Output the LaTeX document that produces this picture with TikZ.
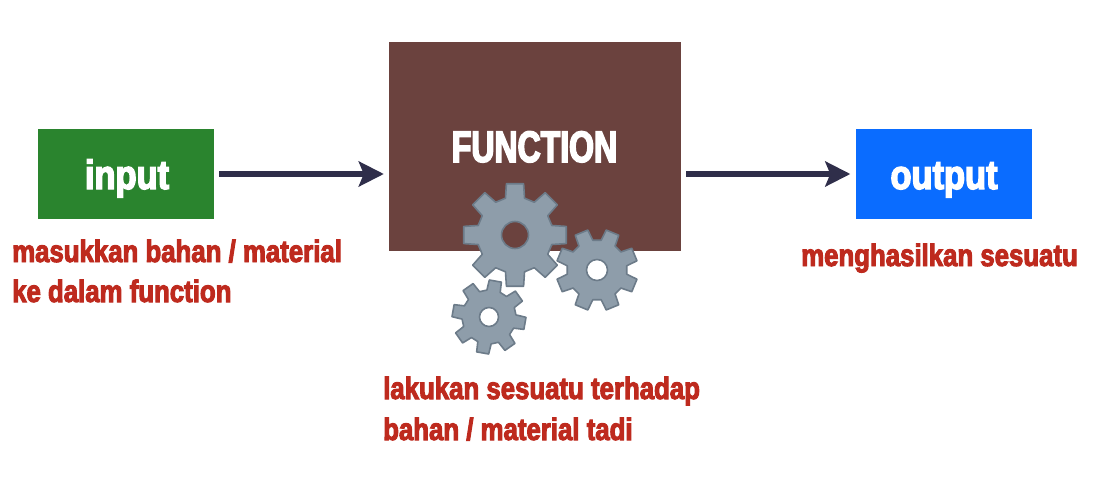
\documentclass[tikz,border=0pt]{standalone}
\usepackage{fontspec}
\setmainfont{Liberation Sans}[BoldFont={Liberation Sans Bold}]
\newfontfamily\notefont{Liberation Sans Bold}[FakeStretch=0.832,FakeBold=3.2]
\newfontfamily\condfont{Liberation Sans Bold}[FakeStretch=0.84,FakeBold=3.5]
\newfontfamily\capfont{Liberation Sans Bold}[FakeStretch=0.727,FakeBold=3.5]
\usetikzlibrary{arrows.meta}
\definecolor{boxgreen}{HTML}{2A842E}
\definecolor{boxbrown}{HTML}{6B423E}
\definecolor{boxblue}{HTML}{0A6CFF}
\definecolor{arrowink}{HTML}{2F2E4A}
\definecolor{notered}{HTML}{BE2A1E}
\definecolor{gearfill}{HTML}{8E9DAA}
\definecolor{gearline}{HTML}{6C7B89}
\tikzset{
  blockbox/.style={draw=none,minimum width=#1,inner sep=0pt},
  blocklabel/.style={text=white,inner sep=0pt,anchor=base},
  flowarrow/.style={draw=arrowink,line width=6pt,-{Stealth[length=25pt,width=25pt,inset=5pt]}},
  notetext/.style={text=notered,inner sep=0pt,anchor=base west,font=\notefont\fontsize{31}{41}\selectfont},
  gearbody/.style={draw=gearline,line width=1.6pt,fill=gearfill,line join=round},
}
% cx cy outer root hole rotation
\newcommand{\gearshape}[6]{%
  \begin{scope}[shift={(#1,#2)}]
    \path[gearbody]
      (#6-14.5:#4)
      \foreach \k in {0,...,7}{
        -- ({#6+\k*45-9.5}:#3) -- ({#6+\k*45+9.5}:#3)
        -- ({#6+\k*45+14.5}:#4) -- ({#6+\k*45+30.5}:#4)
      } -- cycle;
  \end{scope}}
\begin{document}
\begin{tikzpicture}[x=1pt,y=-1pt]
\useasboundingbox (0,0) rectangle (1100,492);
\fill[white] (0,0) rectangle (1100,492);

\node[blockbox=176pt,fill=boxgreen,minimum height=90pt] (input) at (126,174) {};
\node[blocklabel] (inputlabel) at (127,189) {\condfont\fontsize{41}{44}\selectfont input};
\node[blockbox=292pt,fill=boxbrown,minimum height=209pt] (function) at (535,146.5) {};
\node[blocklabel] (functionlabel) at (534.5,162) {\capfont\fontsize{44}{46}\selectfont FUNCTION};
\node[blockbox=176pt,fill=boxblue,minimum height=90pt] (output) at (943.5,174) {};
\node[blocklabel] (outputlabel) at (944,189) {\condfont\fontsize{41}{44}\selectfont output};

\draw[flowarrow,shorten <=5pt,shorten >=5pt] (input.east) -- (input.east -| function.west);
\draw[flowarrow,shorten <=5pt,shorten >=5pt] (output.west -| function.east) -- (output.west);

\gearshape{515}{235}{52}{38}{14}{-90}
\fill[boxbrown] (515,235) circle (13.5);
\draw[gearline,line width=1.6pt] (515,235) circle (13.5);
\gearshape{597}{270}{41}{30}{10}{-67.5}
\fill[white] (597,270) circle (10.5);
\draw[gearline,line width=1.6pt] (597,270) circle (10.5);
\gearshape{489}{317}{37}{27}{9}{-80}
\fill[white] (489,317) circle (9.5);
\draw[gearline,line width=1.6pt] (489,317) circle (9.5);

\node[notetext] (noteinputa) at (12,262) {masukkan bahan / material};
\node[notetext] (noteinputb) at (12,302) {ke dalam function};
\node[notetext] (notefunctiona) at (383,399) {lakukan sesuatu terhadap};
\node[notetext] (notefunctionb) at (383,440) {bahan / material tadi};
\node[notetext] (noteoutput) at (801,266) {menghasilkan sesuatu};
\end{tikzpicture}
\end{document}
